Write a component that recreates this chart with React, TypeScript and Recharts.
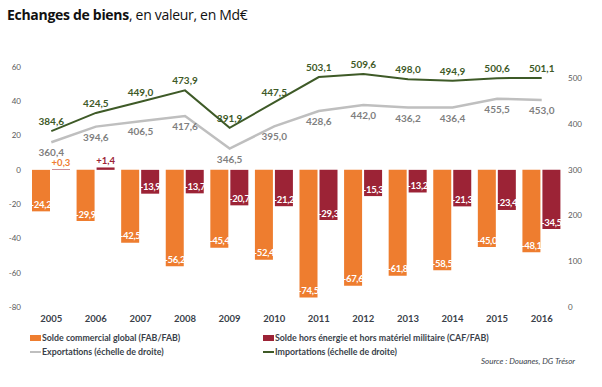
import React from "react";
import {
  ComposedChart,
  Bar,
  Line,
  XAxis,
  YAxis,
  LabelList,
} from "recharts";

const years = ["2005", "2006", "2007", "2008", "2009", "2010", "2011", "2012", "2013", "2014", "2015", "2016"];
const soldeGlobal = [-24.2, -29.9, -42.5, -56.2, -45.4, -52.4, -74.5, -67.6, -61.8, -58.5, -45.0, -48.1];
const soldeHorsEnergie = [0.3, 1.4, -13.9, -13.7, -20.7, -21.2, -29.3, -15.3, -13.2, -21.3, -23.4, -34.5];
const exportations = [360.4, 394.6, 406.5, 417.6, 346.5, 395.0, 428.6, 442.0, 436.2, 436.4, 455.5, 453.0];
const importations = [384.6, 424.5, 449.0, 473.9, 391.9, 447.5, 503.1, 509.6, 498.0, 494.9, 500.6, 501.1];
const leftTicks = [-80, -60, -40, -20, 0, 20, 40, 60];
const rightTicks = [0, 100, 200, 300, 400, 500];

const ORANGE = "#EE7D2F";
const RED = "#9C2336";
const GREEN = "#3E5A27";
const GRAY = "#BFBFBF";
const TEXT = "#3A3F4A";
const FONT = "Lato, 'Open Sans', sans-serif";

const data = years.map((y, i) => ({
  year: y,
  global: soldeGlobal[i],
  hors: soldeHorsEnergie[i],
  exp: exportations[i],
  imp: importations[i],
}));

const fmt = (v: number, sign = false) => {
  const s = Math.abs(v).toFixed(1).replace(".", ",");
  if (v < 0) return "-" + s;
  return sign ? "+" + s : s;
};

const makeBarLabel = (posColor: string) => (props: any) => {
  const { x, y, width, height, value } = props;
  const v = Number(value);
  const cx = Number(x) + Number(width) / 2;
  const y1 = Number(y);
  const y2 = Number(y) + Number(height);
  if (v < 0) {
    const bottom = Math.max(y1, y2);
    return (
      <text
        x={cx}
        y={bottom - 7}
        textAnchor="middle"
        dominantBaseline="central"
        fill="#FFFFFF"
        fontSize={9.5}
        fontWeight={700}
        fontFamily={FONT}
        letterSpacing={-0.3}
      >
        {fmt(v)}
      </text>
    );
  }
  const top = Math.min(y1, y2);
  return (
    <text
      x={cx}
      y={top - 7}
      textAnchor="middle"
      dominantBaseline="central"
      fill={posColor}
      fontSize={9.5}
      fontWeight={700}
      fontFamily={FONT}
    >
      {fmt(v, true)}
    </text>
  );
};

const redPosColors: Record<string, string> = { "2005": ORANGE, "2006": RED };

const redLabel = (props: any) => {
  const { index } = props;
  const c = redPosColors[years[index]] || RED;
  return makeBarLabel(c)(props);
};

const lineLabel = (color: string, dy: number) => (props: any) => {
  const { x, y, value } = props;
  return (
    <text
      x={Number(x)}
      y={Number(y) + dy}
      textAnchor="middle"
      dominantBaseline="central"
      fill={color}
      fontSize={10}
      fontWeight={700}
      fontFamily={FONT}
    >
      {fmt(Number(value))}
    </text>
  );
};

const legendItem = (kind: "box" | "line", color: string, label: string, left: number, top: number) => (
  <div
    style={{
      position: "absolute",
      left,
      top,
      display: "flex",
      alignItems: "center",
      fontFamily: FONT,
      fontSize: 8.8,
      fontWeight: 700,
      color: TEXT,
      whiteSpace: "nowrap",
      lineHeight: "12px",
    }}
  >
    <span
      style={{
        display: "inline-block",
        width: 11,
        height: kind === "box" ? 6 : 2,
        background: color,
        marginRight: 1,
      }}
    />
    {label}
  </div>
);

export default function App() {
  return (
    <div
      style={{
        position: "absolute",
        left: 0,
        top: 0,
        width: 602,
        height: 387,
        background: "#FFFFFF",
        overflow: "hidden",
      }}
    >
      <div
        style={{
          position: "absolute",
          left: 7,
          top: 5,
          fontFamily: "'Open Sans', sans-serif",
          fontSize: 14,
          color: "#111",
          whiteSpace: "nowrap",
          letterSpacing: -0.3,
        }}
      >
        <span style={{ fontWeight: 700 }}>Echanges de biens</span>, en valeur, en Md€
      </div>
      <ComposedChart
        width={602}
        height={387}
        data={data}
        margin={{ top: 67, right: 0, bottom: 60, left: 0 }}
        barGap={2}
        barSize={18}
      >
        <XAxis
          dataKey="year"
          height={20}
          axisLine={false}
          tickLine={false}
          interval={0}
          tick={{ fill: TEXT, fontSize: 9.5, fontWeight: 700, fontFamily: FONT }}
        />
        <YAxis
          yAxisId="left"
          width={29}
          domain={[-80, 60]}
          ticks={leftTicks}
          axisLine={false}
          tickLine={false}
          tick={{ fill: "#595959", fontSize: 8, fontFamily: FONT }}
        />
        <YAxis
          yAxisId="right"
          orientation="right"
          width={38}
          domain={[0, 525]}
          ticks={rightTicks}
          axisLine={false}
          tickLine={false}
          tickSize={2}
          tick={{ fill: "#595959", fontSize: 8, fontFamily: FONT, textAnchor: "start" }}
        />
        <Bar yAxisId="left" dataKey="global" fill={ORANGE} isAnimationActive={false}>
          <LabelList dataKey="global" content={makeBarLabel(ORANGE)} />
        </Bar>
        <Bar yAxisId="left" dataKey="hors" fill={RED} isAnimationActive={false}>
          <LabelList dataKey="hors" content={redLabel} />
        </Bar>
        <Line
          yAxisId="right"
          dataKey="exp"
          stroke={GRAY}
          strokeWidth={2.5}
          dot={false}
          isAnimationActive={false}
        >
          <LabelList dataKey="exp" content={lineLabel("#7F7F7F", 10)} />
        </Line>
        <Line
          yAxisId="right"
          dataKey="imp"
          stroke={GREEN}
          strokeWidth={2}
          dot={false}
          isAnimationActive={false}
        >
          <LabelList dataKey="imp" content={lineLabel(GREEN, -10)} />
        </Line>
      </ComposedChart>
      {legendItem("box", ORANGE, "Solde commercial global (FAB/FAB)", 30, 332)}
      {legendItem("box", RED, "Solde hors énergie et hors matériel militaire (CAF/FAB)", 263, 332)}
      {legendItem("line", GRAY, "Exportations (échelle de droite)", 30, 346)}
      {legendItem("line", GREEN, "Importations (échelle de droite)", 263, 346)}
      <div
        style={{
          position: "absolute",
          left: 481,
          top: 356,
          fontFamily: FONT,
          fontSize: 8,
          fontStyle: "italic",
          color: TEXT,
          whiteSpace: "nowrap",
        }}
      >
        Source : Douanes, DG Trésor
      </div>
    </div>
  );
}
